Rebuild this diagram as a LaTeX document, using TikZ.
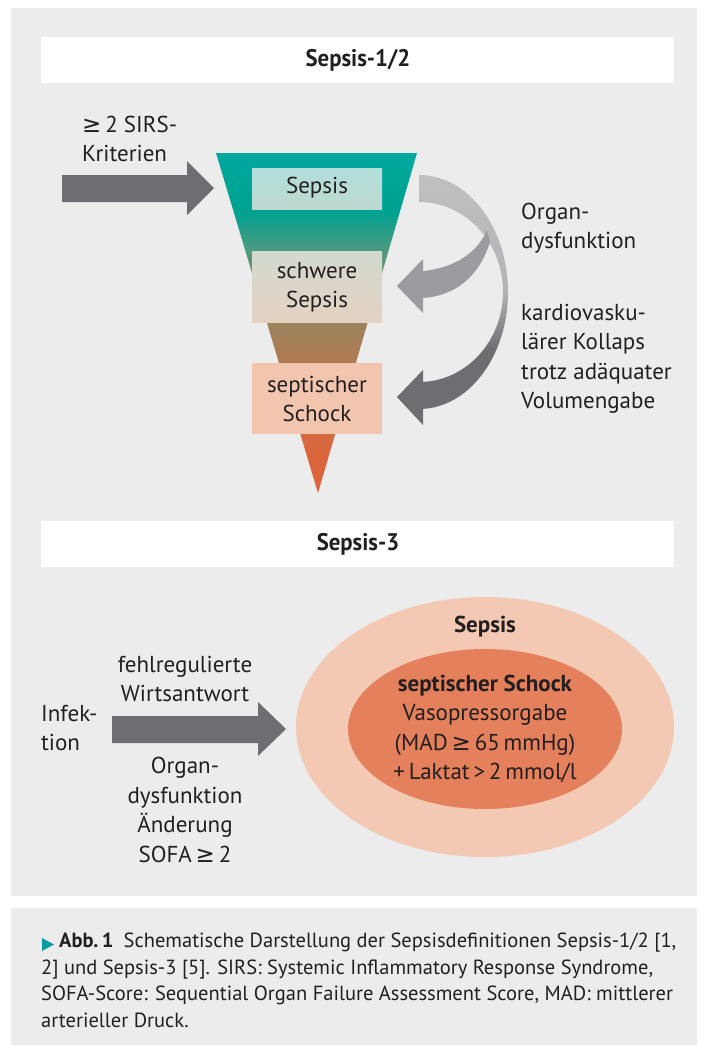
\documentclass[tikz,border=0pt]{standalone}
\usepackage{fontspec}
\setmainfont{PT Sans}
\newfontfamily\titlefont[FakeStretch=0.95]{PT Sans}
\newfontfamily\symfont{DejaVu Sans}
\newcommand\GE{{\symfont\char"2265}}
\definecolor{panel}{HTML}{EBECEB}
\definecolor{txt}{HTML}{231F20}
\definecolor{agrey}{HTML}{6D6E71}
\definecolor{mgrey}{HTML}{9B9C9F}
\definecolor{lgrey}{HTML}{BFC0C2}
\definecolor{lgreyb}{HTML}{B3B4B7}
\definecolor{fteal}{HTML}{00A99D}
\definecolor{fone}{HTML}{00A190}
\definecolor{ftwo}{HTML}{4C9A80}
\definecolor{fthree}{HTML}{8E8A66}
\definecolor{ffour}{HTML}{B07A52}
\definecolor{ffive}{HTML}{D8683F}
\definecolor{forange}{HTML}{E0633A}
\definecolor{boxone}{HTML}{B2DFDA}
\definecolor{boxoneb}{HTML}{BDD8D0}
\definecolor{boxtwo}{HTML}{D2D9CE}
\definecolor{boxtwob}{HTML}{E4D2C2}
\definecolor{boxthree}{HTML}{F2C5AF}
\definecolor{outerell}{HTML}{F3C9B3}
\definecolor{innerell}{HTML}{E4805B}
\definecolor{capblue}{HTML}{0A9C9E}
\pgfdeclareverticalshading{funnelshade}{100bp}{color(0bp)=(forange); color(25bp)=(forange); color(32.8bp)=(ffive); color(44.6bp)=(ffour); color(53.4bp)=(fthree); color(60.7bp)=(ftwo); color(66.3bp)=(fone); color(75bp)=(fteal); color(100bp)=(fteal)}
\pgfdeclareverticalshading{arcshade}{100bp}{color(0bp)=(agrey); color(25bp)=(agrey); color(40bp)=(agrey); color(52bp)=(lgreyb); color(75bp)=(lgrey); color(100bp)=(lgrey)}
\tikzset{
  body/.style={font=\fontsize{23}{29.5}\selectfont, text=txt, align=center, inner sep=0pt},
  lbody/.style={body, align=left, anchor=west},
  title/.style={font=\titlefont\bfseries\fontsize{24}{28}\selectfont, text=txt, inner sep=0pt}
}
\begin{document}
\begin{tikzpicture}[x=1pt,y=1pt]
\useasboundingbox (0,0) rectangle (707,-1053);
\fill[white] (0,0) rectangle (707,-1053);
\fill[panel] (11,-8) rectangle (697,-896);
\fill[panel] (11,-908) rectangle (697,-1045);
% titles
\fill[white] (41,-37) rectangle (674,-83);
\node[title] (t1) at (358,-60) {Sepsis-1/2};
\fill[white] (41,-521) rectangle (674,-567);
\node[title] (t2) at (358,-544) {Sepsis-3};
% funnel
\shade[shading=funnelshade] (216,-153) -- (417,-153) -- (318,-493) -- cycle;
\shade[top color=boxone, bottom color=boxoneb] (252,-168) rectangle (382,-209);
\shade[top color=boxtwo, bottom color=boxtwob] (252,-251) rectangle (382,-322);
\fill[boxthree] (252,-363) rectangle (382,-434);
\node[body] (s1) at (317,-188) {Sepsis};
\node[body] (s2) at (317,-287) {schwere\\Sepsis};
\node[body] (s3) at (317,-399) {septischer\\Schock};
% left arrow
\fill[agrey] (62,-175) -- (187,-175) -- (187,-161) -- (214,-188) -- (187,-215) -- (187,-202) -- (62,-202) -- cycle;
\node[lbody] (sirs) at (82,-139) {\GE\,2 SIRS-\\Kriterien};
% curved arrows
\shade[shading=arcshade] (419,-175) arc[start angle=90,end angle=-90,x radius=89,y radius=117]
  -- (423,-409) -- (423,-425) -- (397,-397) -- (423,-370) -- (423,-382) -- (419,-382)
  arc[start angle=-90,end angle=90,x radius=84,y radius=90] -- cycle;
\fill[mgrey] (423,-271) .. controls (455,-268) and (478,-252) .. (487,-230)
  -- (490,-242) .. controls (478,-280) and (452,-296) .. (423,-298)
  -- (423,-313) -- (397,-286) -- (423,-259) -- cycle;
\node[lbody] (od1) at (521,-228) {Organ-\\dysfunktion};
\node[lbody] (kv) at (521,-359) {kardiovasku-\\lärer Kollaps\\trotz adäquater\\Volumengabe};
% sepsis-3
\fill[outerell] (485,-727) ellipse[x radius=189, y radius=130];
\fill[innerell] (485,-729) ellipse[x radius=137, y radius=80];
\node[body, font=\bfseries\fontsize{23}{29.5}\selectfont] (sep) at (485,-627) {Sepsis};
\node[body] (ss) at (485,-729) {\textbf{septischer Schock}\\Vasopressorgabe\\(MAD\,\GE\,65\,mmHg)\\+\,Laktat\,>\,2\,mmol/l};
\fill[agrey] (112,-716) -- (258,-716) -- (258,-702) -- (286,-729) -- (258,-756) -- (258,-743) -- (112,-743) -- cycle;
\node[lbody] (inf) at (41,-728) {Infek-\\tion};
\node[body] (fw) at (185,-679) {fehlregulierte\\Wirtsantwort};
\node[body] (od2) at (185,-810) {Organ-\\dysfunktion\\Änderung\\SOFA\,\GE\,2};
% caption
\fill[capblue] (42,-938) -- (54,-944.5) -- (42,-951) -- cycle;
\node[inner sep=0pt, anchor=north west, align=left, text=txt, font=\fontsize{20.5}{26.5}\selectfont] (cap) at (41,-933)
 {\hspace*{18pt}\textbf{Abb.\,1}\enspace Schematische Darstellung der Sepsisdefinitionen Sepsis-1/2 [1,\\
 2] und Sepsis-3 [5]. SIRS: Systemic Inflammatory Response Syndrome,\\
 SOFA-Score: Sequential Organ Failure Assessment Score, MAD: mittlerer\\
 arterieller Druck.};
\end{tikzpicture}
\end{document}
